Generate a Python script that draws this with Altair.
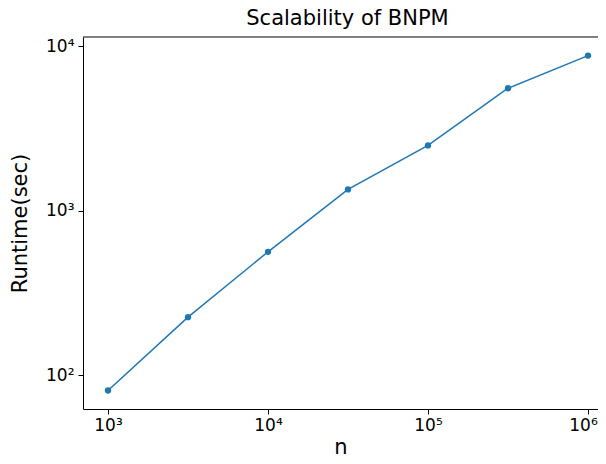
import altair as alt
import pandas as pd

# Data
n_values = [1000, 3162, 10000, 31623, 100000, 316228, 1000000]
runtime_sec = [81, 226, 564, 1350, 2500, 5560, 8780]

x_ticks = [1000, 10000, 100000, 1000000]
y_ticks = [100, 1000, 10000]

df = pd.DataFrame({"n": n_values, "runtime": runtime_sec})

FONT = "DejaVu Sans"
BLUE = "#1f77b4"
W, H = 515, 372

sup = "['\u2070','\u00b9','\u00b2','\u00b3','\u2074','\u2075','\u2076']"
label_expr = "'10' + " + sup + "[round(log(datum.value)/LN10)]"

x_enc = alt.X(
    "n:Q",
    scale=alt.Scale(type="log", domain=[10 ** 2.8437, 10 ** 6.0625], nice=False),
    axis=alt.Axis(
        values=x_ticks, labelExpr=label_expr, title="n",
        grid=False, domainColor="black", domainWidth=1,
        tickColor="black", tickSize=5, tickWidth=1,
        labelFont=FONT, labelFontSize=17, labelColor="black", labelPadding=3,
        labelOffset={"condition": {"test": "datum.value >= 999999", "value": -5}, "value": 0},
        titleFont=FONT, titleFontSize=21, titleFontWeight="normal",
        titleColor="black", titlePadding=3,
    ),
)
y_enc = alt.Y(
    "runtime:Q",
    scale=alt.Scale(type="log", domain=[10 ** 1.796, 10 ** 4.0565], nice=False),
    axis=alt.Axis(
        values=y_ticks, labelExpr=label_expr, title="Runtime(sec)",
        grid=False, domainColor="black", domainWidth=1,
        tickColor="black", tickSize=5, tickWidth=1,
        labelFont=FONT, labelFontSize=17, labelColor="black", labelPadding=4,
        titleFont=FONT, titleFontSize=21, titleFontWeight="normal",
        titleColor="black", titlePadding=15,
    ),
)

base = alt.Chart(df).encode(x=x_enc, y=y_enc)
line = base.mark_line(color=BLUE, strokeWidth=1.5)
points = base.mark_point(filled=True, color=BLUE, size=40, opacity=1)

top_spine = alt.Chart(pd.DataFrame({"a": [0]})).mark_rule(
    color="black", strokeWidth=1
).encode(x=alt.value(0), x2=alt.value(W), y=alt.value(0))

chart = (
    alt.layer(line, points, top_spine)
    .properties(
        width=W,
        height=H,
        autosize=alt.AutoSizeParams(type="none"),
        padding={"left": 75, "top": 29, "right": 0, "bottom": 47},
        title=alt.TitleParams(
            "Scalability of BNPM", font=FONT, fontSize=21,
            fontWeight="normal", color="black", offset=8, dx=7,
        ),
    )
    .configure_view(stroke=None)
)

chart.save("out.html", embed_options={"renderer": "svg", "actions": False})
